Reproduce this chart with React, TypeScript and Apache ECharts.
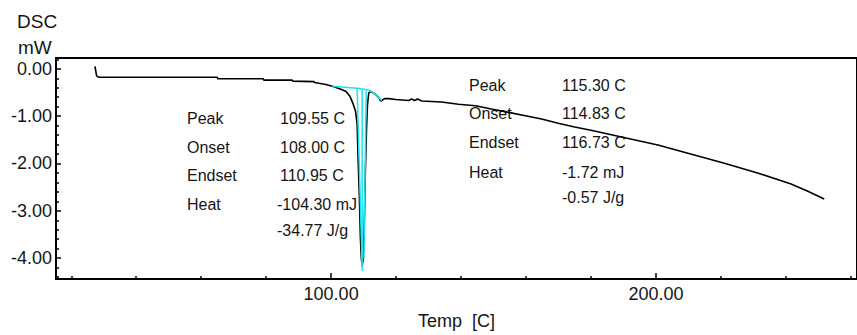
import React, { useEffect, useRef } from "react";
import * as echarts from "echarts";

// DSC trace (Temp in C, heat flow in mW)
const temps = [27.3, 27.8, 28.5, 29.3, 65.0, 65.1, 79.1, 79.3, 88.0, 88.2, 94.7, 94.9, 98.4, 100.9, 103.0, 104.6, 105.8, 106.7, 107.5, 108.0, 108.3, 108.7, 109.0, 109.3, 109.55, 109.9, 110.2, 110.5, 110.9, 111.2, 111.6, 112.2, 113.7, 114.7, 115.3, 115.8, 116.5, 117.8, 119.9, 123.9, 124.8, 125.7, 126.6, 127.9, 134.0, 139.2, 144.4, 149.3, 154.6, 159.8, 164.8, 169.9, 175.0, 180.0, 190.1, 200.6, 210.7, 220.8, 231.3, 241.4, 246.6, 251.8];
const heatFlow = [0.05, -0.15, -0.18, -0.18, -0.18, -0.21, -0.21, -0.24, -0.24, -0.26, -0.27, -0.29, -0.33, -0.38, -0.43, -0.48, -0.58, -0.73, -0.89, -1.16, -1.89, -2.72, -3.55, -4.0, -4.17, -4.0, -3.34, -2.3, -1.27, -0.75, -0.51, -0.48, -0.54, -0.61, -0.68, -0.66, -0.63, -0.63, -0.65, -0.67, -0.64, -0.67, -0.64, -0.68, -0.7, -0.75, -0.78, -0.85, -0.92, -0.99, -1.06, -1.15, -1.23, -1.3, -1.45, -1.61, -1.8, -1.99, -2.2, -2.43, -2.58, -2.75];

// analysis overlay (cyan)
const baselineTemps = [100.4, 108.0, 111.6, 113.5, 115.6];
const baselineValues = [-0.37, -0.41, -0.45, -0.53, -0.67];
const onsetTangentTemps = [108.0, 109.6];
const onsetTangentValues = [-0.41, -4.27];
const peakLineTemps = [109.55, 109.55];
const peakLineValues = [-0.43, -4.17];
const endsetTangentTemps = [110.8, 110.1];
const endsetTangentValues = [-0.46, -4.0];

// axes
const xMin = 15.3;
const xMax = 261.9;
const yMin = -4.44;
const yMax = 0.228;
const xMajorTicks = [100, 200];
const xMinorTicks = [20, 40, 60, 80, 120, 140, 160, 180, 220, 240, 260];
const yMajorTicks = [0, -1, -2, -3, -4];
const yMinorTicks = [0.2, -0.2, -0.4, -0.6, -0.8, -1.2, -1.4, -1.6, -1.8, -2.2, -2.4, -2.6, -2.8, -3.2, -3.4, -3.6, -3.8, -4.2, -4.4];

// annotation texts
const peak1Labels = ["Peak", "Onset", "Endset", "Heat"];
const peak1Values = ["109.55 C", "108.00 C", "110.95 C", "-104.30 mJ", "-34.77 J/g"];
const peak2Labels = ["Peak", "Onset", "Endset", "Heat"];
const peak2Values = ["115.30 C", "114.83 C", "116.73 C", "-1.72 mJ", "-0.57 J/g"];

const zip = (a: number[], b: number[]) => a.map((v, i) => [v, b[i]]);

const FONT = "'Liberation Sans', Arial, sans-serif";
const TXT = "#151515";
const CYAN = "#19e3f0";

export default function App() {
  const ref = useRef<HTMLDivElement>(null);
  useEffect(() => {
    document.body.style.margin = "0";
    if (!ref.current) return;
    const chart = echarts.init(ref.current, undefined, { renderer: "svg" });

    const leftRows = [118, 147, 175, 204, 230];
    const rightRows = [85, 113, 142, 172, 197];
    const texts: any[] = [];
    const addText = (text: string, x: number, y: number, size: number) =>
      texts.push({
        type: "text",
        x,
        y,
        z: 1,
        style: { text, fill: TXT, font: `${size}px ${FONT}`, textVerticalAlign: "middle" },
      });
    peak1Labels.forEach((t, i) => addText(t, 187, leftRows[i], 16));
    peak1Values.forEach((t, i) => addText(t, t.startsWith("-") ? 277 : 280, leftRows[i], 16));
    peak2Labels.forEach((t, i) => addText(t, 469, rightRows[i], 16));
    peak2Values.forEach((t, i) => addText(t, 562, rightRows[i], 16));
    addText("DSC", 17, 21, 19);
    addText("mW", 18, 47, 19);

    const lineSeries = (name: string, data: number[][], color: string, width: number) => ({
      name,
      type: "line",
      data,
      showSymbol: false,
      symbol: "none",
      lineStyle: { color, width },
      xAxisIndex: 0,
      yAxisIndex: 0,
      z: 3,
    });

    const tickStyle = { color: "#000", width: 1.5 };

    chart.setOption({
      animation: false,
      backgroundColor: "#fff",
      grid: {
        left: 56,
        top: 58,
        width: 804,
        height: 225,
        show: true,
        borderColor: "#000",
        borderWidth: 2,
        backgroundColor: "transparent",
      },
      xAxis: [
        {
          type: "value",
          min: xMin,
          max: xMax,
          position: "bottom",
          axisLine: { show: false, onZero: false },
          splitLine: { show: false },
          axisTick: { show: true, inside: true, length: 6, customValues: xMajorTicks, lineStyle: tickStyle },
          axisLabel: {
            customValues: xMajorTicks,
            formatter: (v: number) => v.toFixed(2),
            color: TXT,
            fontSize: 18,
            fontFamily: FONT,
            margin: 6,
          },
          name: "Temp  [C]",
          nameLocation: "middle",
          nameGap: 33,
          nameTextStyle: { color: TXT, fontSize: 18, fontFamily: FONT },
        },
        {
          type: "value",
          min: xMin,
          max: xMax,
          position: "bottom",
          axisLine: { show: false, onZero: false },
          splitLine: { show: false },
          axisTick: { show: true, inside: true, length: 3, customValues: xMinorTicks, lineStyle: tickStyle },
          axisLabel: { show: false },
        },
      ],
      yAxis: [
        {
          type: "value",
          min: yMin,
          max: yMax,
          position: "left",
          axisLine: { show: false, onZero: false },
          splitLine: { show: false },
          axisTick: { show: true, inside: true, length: 5, customValues: yMajorTicks, lineStyle: tickStyle },
          axisLabel: {
            customValues: yMajorTicks,
            formatter: (v: number) => v.toFixed(2),
            color: TXT,
            fontSize: 18,
            fontFamily: FONT,
            margin: 4,
          },
        },
        {
          type: "value",
          min: yMin,
          max: yMax,
          position: "left",
          axisLine: { show: false, onZero: false },
          splitLine: { show: false },
          axisTick: { show: true, inside: true, length: 3, customValues: yMinorTicks, lineStyle: tickStyle },
          axisLabel: { show: false },
        },
      ],
      graphic: texts,
      series: [
        lineSeries("DSC", zip(temps, heatFlow), "#000", 1.6),
        lineSeries("Baseline", zip(baselineTemps, baselineValues), CYAN, 1.5),
        lineSeries("Onset tangent", zip(onsetTangentTemps, onsetTangentValues), CYAN, 1.5),
        lineSeries("Peak", zip(peakLineTemps, peakLineValues), CYAN, 1.5),
        lineSeries("Endset tangent", zip(endsetTangentTemps, endsetTangentValues), CYAN, 1.5),
      ],
    });
    return () => chart.dispose();
  }, []);
  return <div ref={ref} style={{ width: 857, height: 335 }} />;
}
